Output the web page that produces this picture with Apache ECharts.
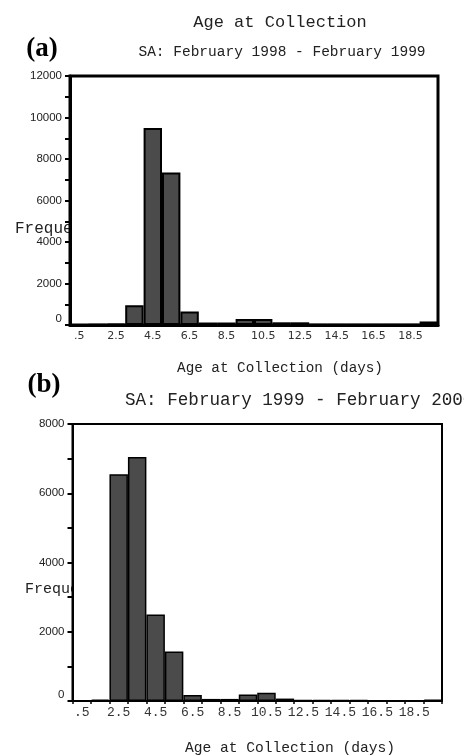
<!DOCTYPE html>
<html><head><meta charset="utf-8">
<script src="https://cdn.jsdelivr.net/npm/echarts@6/dist/echarts.min.js"></script>
<style>html,body{margin:0;padding:0;background:#fff}#c{width:464px;height:755px}</style>
</head><body><div id="c"></div>
<script>
// Bin labels (bin centres, days)
const categories = ['.5','1.5','2.5','3.5','4.5','5.5','6.5','7.5','8.5','9.5','10.5','11.5','12.5','13.5','14.5','15.5','16.5','17.5','18.5','19.5'];
// (a) SA: February 1998 - February 1999
const countsA = [10, 20, 50, 950, 9500, 7350, 650, 120, 120, 290, 290, 130, 130, 20, 20, 20, 15, 15, 15, 170];
// (b) SA: February 1999 - February 2000
const countsB = [10, 40, 6550, 7050, 2500, 1430, 170, 60, 60, 190, 240, 70, 30, 30, 30, 30, 5, 5, 5, 40];
const yMaxA = 12000, yStepA = 2000;
const yMaxB = 8000, yStepB = 2000;

const mono = '"Liberation Mono", "DejaVu Sans Mono", monospace';
const chart = echarts.init(document.getElementById('c'), null, {renderer: 'canvas'});

function yAxisCfg(gi, max, step, lw) {
  return {
    type: 'value', gridIndex: gi, min: 0, max: max, interval: step,
    axisLine: {show: true, lineStyle: {color: '#000', width: lw}},
    axisTick: {show: true, inside: false, length: 5, lineStyle: {color: '#000', width: 2}},
    minorTick: {show: true, splitNumber: 2, length: 5, lineStyle: {color: '#000', width: 2}},
    splitLine: {show: false}, minorSplitLine: {show: false},
    axisLabel: {margin: 8, color: '#222', fontSize: 11.5, fontFamily: '"Liberation Sans", Arial, sans-serif',
      formatter: v => String(v), verticalAlignMinLabel: 'bottom'}
  };
}

chart.setOption({
  animation: false,
  backgroundColor: '#fff',
  title: [
    {text: 'Frequency', left: 15, top: 221, padding: 0, z: -1, zlevel: 0,
     textStyle: {fontFamily: mono, fontSize: 16, fontWeight: 'normal', color: '#222'}},
    {text: 'Frequency', left: 25, top: 582, padding: 0, z: -1, zlevel: 0,
     textStyle: {fontFamily: mono, fontSize: 15, fontWeight: 'normal', color: '#222'}}
  ],
  grid: [
    {left: 70, top: 76, width: 368, height: 249, show: true, backgroundColor: '#fff', borderColor: '#000', borderWidth: 3, containLabel: false},
    {left: 72.5, top: 424, width: 369.5, height: 277, show: true, backgroundColor: '#fff', borderColor: '#000', borderWidth: 2, containLabel: false}
  ],
  xAxis: [
    {type: 'category', gridIndex: 0, data: categories, boundaryGap: true,
     axisLine: {lineStyle: {color: '#000', width: 3}},
     axisTick: {show: false},
     axisLabel: {interval: 1, margin: 6, color: '#333', fontSize: 11, fontFamily: '"DejaVu Sans", sans-serif'}},
    {type: 'category', gridIndex: 1, data: categories, boundaryGap: true,
     axisLine: {lineStyle: {color: '#000', width: 2}},
     axisTick: {show: true, interval: 0, length: 3, lineStyle: {color: '#000', width: 1.5}},
     axisLabel: {interval: 1, margin: 5, color: '#333', fontSize: 13, fontFamily: mono}}
  ],
  yAxis: [yAxisCfg(0, yMaxA, yStepA, 3), yAxisCfg(1, yMaxB, yStepB, 2)],
  series: [
    {type: 'bar', xAxisIndex: 0, yAxisIndex: 0, data: countsA, barWidth: '100%', barCategoryGap: '0%',
     itemStyle: {color: '#4b4b4b', borderColor: '#000', borderWidth: 2}, z: 3},
    {type: 'bar', xAxisIndex: 1, yAxisIndex: 1, data: countsB, barWidth: '100%', barCategoryGap: '0%',
     itemStyle: {color: '#4b4b4b', borderColor: '#000', borderWidth: 1.5}, z: 3}
  ],
  graphic: [
    {type: 'text', x: 280, y: 22, style: {text: 'Age at Collection', font: '17px ' + mono, fill: '#222', textAlign: 'center', textVerticalAlign: 'middle', align: 'center', verticalAlign: 'middle'}},
    {type: 'text', x: 282, y: 52, style: {text: 'SA: February 1998 - February 1999', font: '14.5px ' + mono, fill: '#222', textAlign: 'center', textVerticalAlign: 'middle', align: 'center', verticalAlign: 'middle'}},
    {type: 'text', x: 42, y: 49, style: {text: '(a)', font: 'bold 27px "Liberation Serif", "DejaVu Serif", serif', fill: '#000', textAlign: 'center', textVerticalAlign: 'middle', align: 'center', verticalAlign: 'middle'}},
    {type: 'text', x: 280, y: 368, style: {text: 'Age at Collection (days)', font: '14.3px ' + mono, fill: '#222', textAlign: 'center', textVerticalAlign: 'middle', align: 'center', verticalAlign: 'middle'}},
    {type: 'text', x: 44, y: 385, style: {text: '(b)', font: 'bold 27px "Liberation Serif", "DejaVu Serif", serif', fill: '#000', textAlign: 'center', textVerticalAlign: 'middle', align: 'center', verticalAlign: 'middle'}},
    {type: 'text', x: 125, y: 400, style: {text: 'SA: February 1999 - February 2000', font: '17.6px ' + mono, fill: '#222', textAlign: 'left', textVerticalAlign: 'middle', align: 'left', verticalAlign: 'middle'}},
    {type: 'text', x: 290, y: 748, style: {text: 'Age at Collection (days)', font: '14.6px ' + mono, fill: '#222', textAlign: 'center', textVerticalAlign: 'middle', align: 'center', verticalAlign: 'middle'}}
  ]
});
</script></body></html>
